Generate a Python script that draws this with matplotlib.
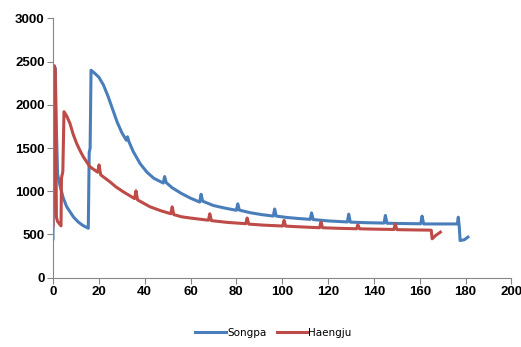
import matplotlib
matplotlib.use('Agg')
import matplotlib.pyplot as plt

# Songpa (blue) series
songpa_x = [0, 0.3, 0.6, 1.0, 1.5, 2.0, 2.6, 3.2, 4.5, 6.0, 7.5, 9.0, 11.0, 13.0, 15.4,
            15.8, 16.2, 16.6, 18, 20, 22, 24, 26, 28, 30, 32, 32.5, 33.2, 35, 38, 41, 44,
            48.1, 48.7, 49.4, 52, 56, 60, 64.0, 64.6, 65.3, 70, 75, 80.0, 80.6, 81.3,
            86, 91, 96.1, 96.7, 97.4, 102, 107, 112.2, 112.8, 113.5, 120, 128.4, 129.0, 129.7,
            136, 144.4, 145.0, 145.7, 152, 160.4, 161.0, 161.7, 168, 176.4, 176.8, 177.2,
            177.6, 179.5, 181.0]
songpa_y = [450, 1500, 2450, 2420, 1700, 1200, 1120, 1050, 920, 820, 760, 700, 645, 605, 572,
            1450, 1500, 2400, 2370, 2320, 2230, 2100, 1950, 1800, 1680, 1590, 1630, 1570, 1460, 1320, 1220, 1150,
            1095, 1170, 1100, 1040, 975, 920, 875, 965, 885, 835, 805, 780, 855, 782,
            752, 730, 713, 795, 713, 697, 685, 675, 750, 673, 657, 645, 735, 643,
            637, 632, 720, 630, 627, 624, 712, 622, 622, 622, 700, 600,
            430, 440, 470]

# Haengju (red) series
haengju_x = [0, 0.3, 0.6, 1.0, 1.5, 2.0, 3.5, 3.7, 4.3, 4.8, 6.0, 7.4, 8.8, 10.3, 11.8, 13.2, 16.1, 19.5,
             20.1, 20.8, 24.8, 27.5, 30.6, 35.6, 36.2, 36.9, 42.3, 47, 51.4, 52.0, 52.7, 56, 60, 67.8, 68.4, 69.1,
             76, 84.1, 84.7, 85.4, 92, 100.2, 100.8, 101.5, 108, 116.3, 116.9, 117.6, 124,
             132.4, 133.0, 133.7, 140, 148.7, 149.3, 150.0, 157, 165.0, 165.4, 167.0, 169.0]
haengju_y = [600, 1500, 2450, 2400, 700, 650, 600, 1150, 1230, 1920, 1870, 1785, 1660, 1554, 1470, 1400, 1284, 1220,
             1305, 1190, 1110, 1050, 995, 915, 1005, 900, 821, 775, 740, 820, 730, 705, 690, 665, 740, 660,
             640, 625, 690, 620, 608, 598, 663, 597, 588, 578, 643, 578, 572,
             566, 612, 566, 562, 558, 622, 556, 553, 550, 450, 490, 527]

x_ticks = list(range(0, 201, 20))
y_ticks = list(range(0, 3001, 500))

fig = plt.figure(figsize=(5.21, 3.47), dpi=100)
ax = fig.add_axes([0.1017, 0.1997, 0.8800, 0.7473])

ax.plot(songpa_x, songpa_y, color='#4A7EBB', lw=2.2, label='Songpa', solid_joinstyle='round')
ax.plot(haengju_x, haengju_y, color='#BE4B48', lw=2.2, label='Haengju', solid_joinstyle='round')

ax.set_xlim(0, 200)
ax.set_ylim(0, 3000)
ax.set_xticks(x_ticks)
ax.set_yticks(y_ticks)

for s in ['top', 'right']:
    ax.spines[s].set_visible(False)
for s in ['left', 'bottom']:
    ax.spines[s].set_color('#868686')
    ax.spines[s].set_linewidth(0.8)
ax.tick_params(axis='both', direction='out', length=4, color='#868686', width=0.8,
               labelsize=9.5, pad=2)
for lab in ax.get_xticklabels() + ax.get_yticklabels():
    lab.set_family('Liberation Sans')
    lab.set_fontweight('bold')

fig.legend(loc='lower center', bbox_to_anchor=(0.525, 0.0), ncol=2, frameon=False,
           fontsize=7.5, handlelength=3.0, handletextpad=0.05, columnspacing=1.0)

fig.savefig('out.png', dpi=100)
